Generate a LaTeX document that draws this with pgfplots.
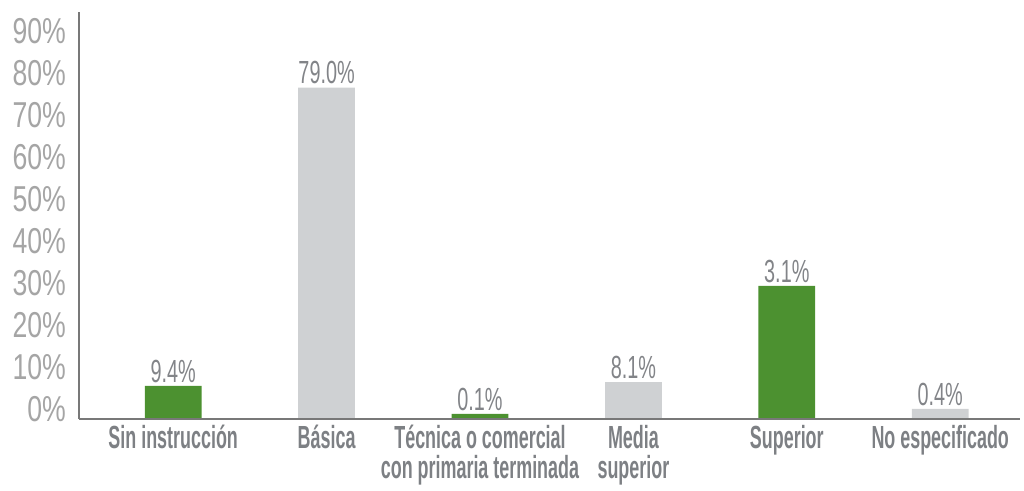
\documentclass[border=0pt]{standalone}
\usepackage{pgfplots}
\pgfplotsset{compat=1.18}
\usepackage{fontspec}
\setmainfont{Liberation Sans}
\newfontfamily\catfont{Liberation Sans}[FakeStretch=0.56, UprightFont=*-Bold]
\newfontfamily\valfont{Liberation Sans}[FakeStretch=0.62]
\newfontfamily\tickfont{Liberation Sans}[FakeStretch=0.74]
\definecolor{barGreen}{RGB}{76,145,48}
\definecolor{barGray}{RGB}{207,209,211}
\definecolor{axisGray}{RGB}{120,120,120}
\definecolor{tickGray}{RGB}{165,165,165}
\definecolor{valGray}{RGB}{130,132,136}
\definecolor{catGray}{RGB}{125,128,132}

\begin{document}
\begin{tikzpicture}[x=1pt,y=1pt]
\useasboundingbox (0,0) rectangle (512,245.5);
\begin{axis}[
  at={(39.5pt,36pt)}, anchor=south west,
  scale only axis, width=470.5pt, height=203.5pt,
  xmin=-0.614, xmax=5.52, ymin=0, ymax=97,
  axis x line=bottom, axis y line=left,
  axis line style={-, draw=axisGray, line width=0.8pt},
  axis on top,
  major tick length=0pt,
  ytick={0,10,...,90},
  yticklabels={0\%,10\%,20\%,30\%,40\%,50\%,60\%,70\%,80\%,90\%},
  yticklabel style={font=\tickfont\fontsize{18}{18}\selectfont, text=tickGray, yshift=5pt, xshift=-3pt},
  xtick={0,...,5},
  xticklabels={Sin instrucción, Básica, {Técnica o comercial\\con primaria terminada}, {Media\\superior}, Superior, No especificado},
  xticklabel style={font=\catfont\fontsize{16}{15}\selectfont, text=catGray, align=center, anchor=north, yshift=-1pt, inner ysep=2pt},
  ybar, bar width=0.37, bar shift=0,
  nodes near coords, point meta=explicit symbolic,
  nodes near coords style={font=\valfont\fontsize{16}{16}\selectfont, text=valGray, anchor=south, inner sep=1.5pt},
]
\addplot[fill=barGreen, draw=none] coordinates {
  (0,7.9) [9.4\%]
  (2,1.2) [0.1\%]
  (4,31.7) [3.1\%]
};
\addplot[fill=barGray, draw=none] coordinates {
  (1,79.0) [79.0\%]
  (3,8.8) [8.1\%]
  (5,2.4) [0.4\%]
};
\end{axis}
\end{tikzpicture}
\end{document}
